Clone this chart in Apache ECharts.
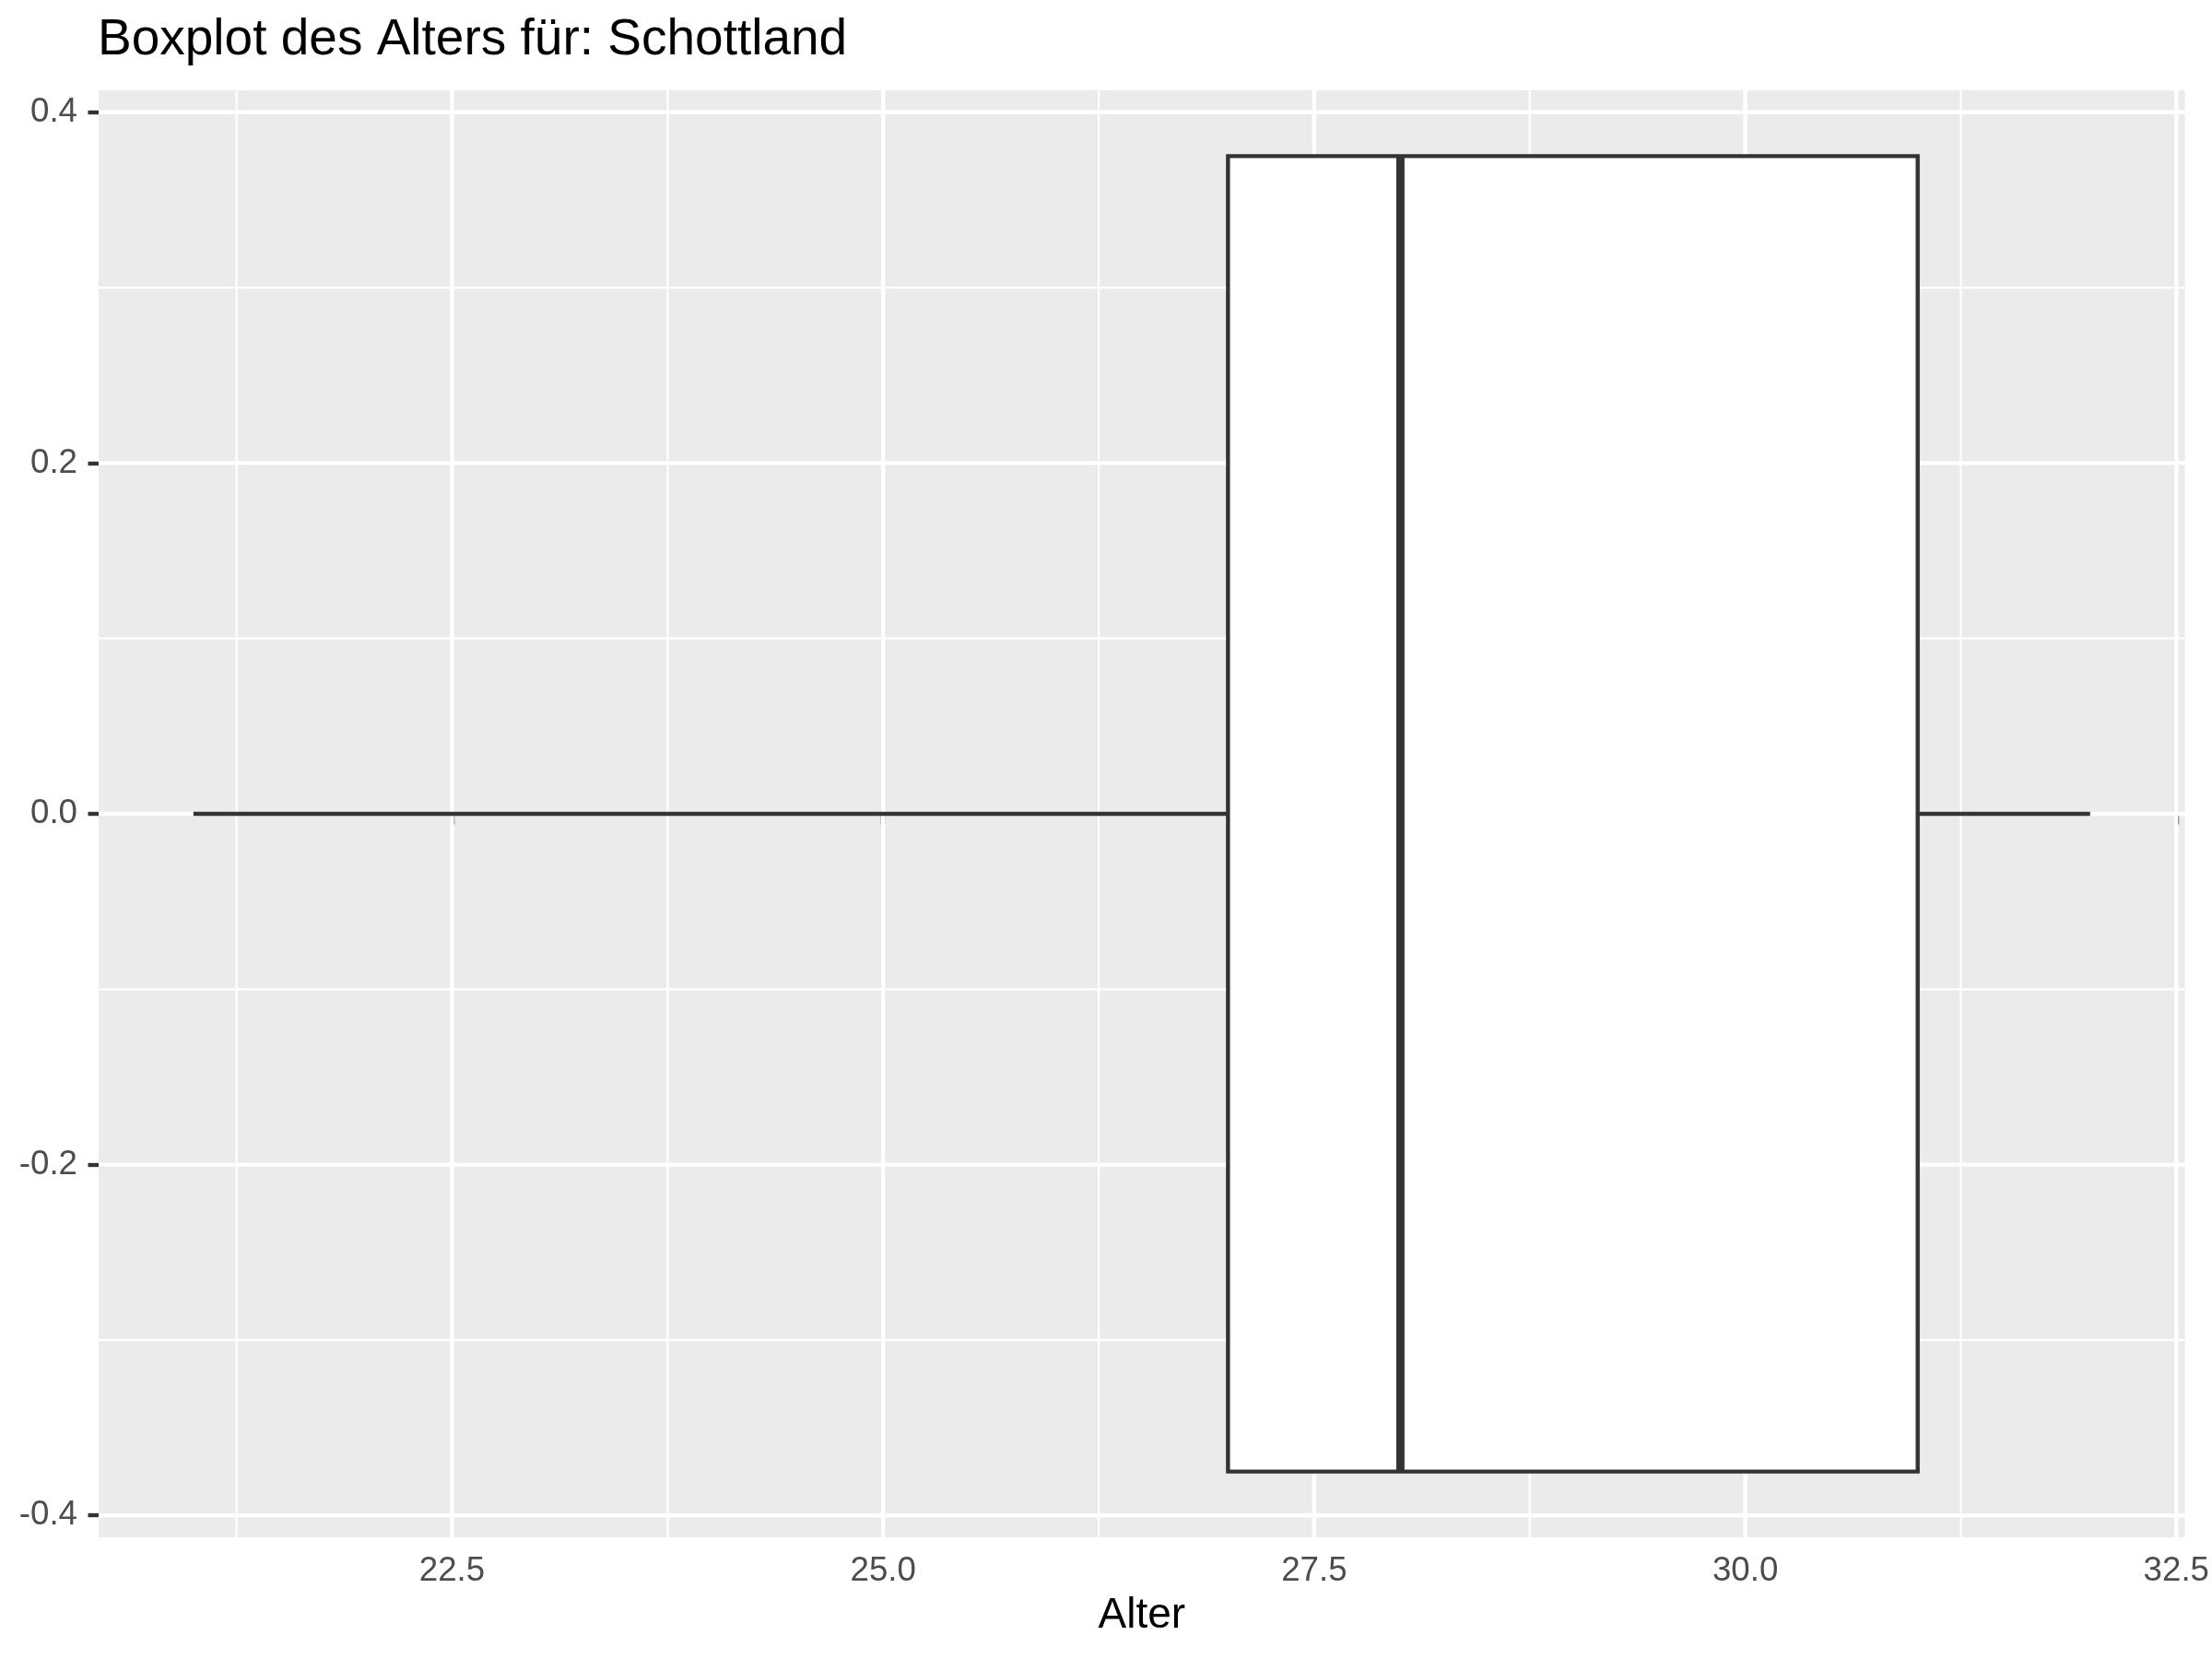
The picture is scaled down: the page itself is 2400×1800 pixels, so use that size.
<!DOCTYPE html>
<html>
<head>
<meta charset="utf-8">
<script src="https://cdn.jsdelivr.net/npm/echarts@6/dist/echarts.min.js"></script>
<style>
html,body{margin:0;padding:0;background:#fff;}
#chart{width:2400px;height:1800px;}
</style>
</head>
<body>
<div id="chart"></div>
<script>
// ---- data ----
const groups = ['Schottland'];
const whiskerLow = [21];
const q1 = [27];
const median = [28];
const q3 = [31];
const whiskerHigh = [32];
const yCenter = [0];
const xTicks = [22.5, 25, 27.5, 30, 32.5];
const xMinor = [21.25, 23.75, 26.25, 28.75, 31.25];
const yTicks = [-0.4, -0.2, 0, 0.2, 0.4];
const yMinor = [-0.3, -0.1, 0.1, 0.3];

const BOX_HALF = 0.375;
const FONT = '"Liberation Sans", Arial, Helvetica, sans-serif';
const DARK = '#333333';

const boxData = groups.map((g, i) => [whiskerLow[i], q1[i], median[i], q3[i], whiskerHigh[i], yCenter[i]]);
const gridData = []
  .concat(xMinor.map(v => [v, 0, 0]))
  .concat(yMinor.map(v => [v, 1, 0]))
  .concat(xTicks.map(v => [v, 0, 1]))
  .concat(yTicks.map(v => [v, 1, 1]));

const chart = echarts.init(document.getElementById('chart'), null, {renderer: 'canvas'});

const option = {
  backgroundColor: '#ffffff',
  animation: false,
  title: {
    text: 'Boxplot des Alters für: Schottland',
    left: 106, top: 16, padding: 0,
    textStyle: {fontFamily: FONT, fontSize: 55, fontWeight: 'normal', color: '#000000'}
  },
  grid: {
    left: 107, right: 24, top: 98, bottom: 132,
    show: true, backgroundColor: '#EBEBEB', borderWidth: 0
  },
  xAxis: {
    type: 'value', min: 20.45, max: 32.55,
    name: 'Alter', nameLocation: 'middle', nameGap: 62,
    nameTextStyle: {fontFamily: FONT, fontSize: 46, color: '#000000'},
    axisLine: {show: false},
    axisTick: {show: true, length: 11.5, customValues: xTicks, lineStyle: {color: DARK, width: 4.4}},
    axisLabel: {show: true, customValues: xTicks, margin: 18, fontFamily: FONT, fontSize: 36.7, color: '#4D4D4D',
      formatter: v => Number(v).toFixed(1)},
    splitLine: {show: false}, minorSplitLine: {show: false}
  },
  yAxis: {
    type: 'value', min: -0.4125, max: 0.4125,
    axisLine: {show: false},
    axisTick: {show: true, length: 11.5, customValues: yTicks, lineStyle: {color: DARK, width: 4.4}},
    axisLabel: {show: true, customValues: yTicks, margin: 23, fontFamily: FONT, fontSize: 36.7, color: '#4D4D4D',
      formatter: v => Number(v).toFixed(1)},
    splitLine: {show: false}, minorSplitLine: {show: false}
  },
  series: [
    {
      type: 'custom',
      z: 1,
      silent: true,
      clip: false,
      data: gridData,
      renderItem: function (params, api) {
        const v = api.value(0), orient = api.value(1), major = api.value(2);
        const cs = params.coordSys;
        const w = major ? 4.4 : 2.2;
        let shape;
        if (orient === 0) {
          const x = api.coord([v, 0])[0];
          shape = {x1: x, y1: cs.y, x2: x, y2: cs.y + cs.height};
        } else {
          const y = api.coord([26, v])[1];
          shape = {x1: cs.x, y1: y, x2: cs.x + cs.width, y2: y};
        }
        return {type: 'line', shape: shape, style: {stroke: '#ffffff', lineWidth: w}};
      }
    },
    {
      type: 'custom',
      z: 3,
      silent: true,
      data: boxData,
      renderItem: function (params, api) {
        const lo = api.value(0), a = api.value(1), m = api.value(2), b = api.value(3), hi = api.value(4), yc = api.value(5);
        const pLo = api.coord([lo, yc]);
        const pA = api.coord([a, yc]);
        const pB = api.coord([b, yc]);
        const pHi = api.coord([hi, yc]);
        const top = api.coord([a, yc + BOX_HALF])[1];
        const bot = api.coord([a, yc - BOX_HALF])[1];
        const xm = api.coord([m, yc])[0];
        return {
          type: 'group',
          children: [
            {type: 'line', shape: {x1: pLo[0], y1: pLo[1], x2: pA[0], y2: pA[1]}, style: {stroke: DARK, lineWidth: 4.4}},
            {type: 'line', shape: {x1: pB[0], y1: pB[1], x2: pHi[0], y2: pHi[1]}, style: {stroke: DARK, lineWidth: 4.4}},
            {type: 'rect', shape: {x: pA[0], y: top, width: pB[0] - pA[0], height: bot - top},
              style: {fill: '#ffffff', stroke: DARK, lineWidth: 4.4}},
            {type: 'line', shape: {x1: xm, y1: top, x2: xm, y2: bot}, style: {stroke: DARK, lineWidth: 8.9}}
          ]
        };
      }
    }
  ]
};
chart.setOption(option);
</script>
</body>
</html>
